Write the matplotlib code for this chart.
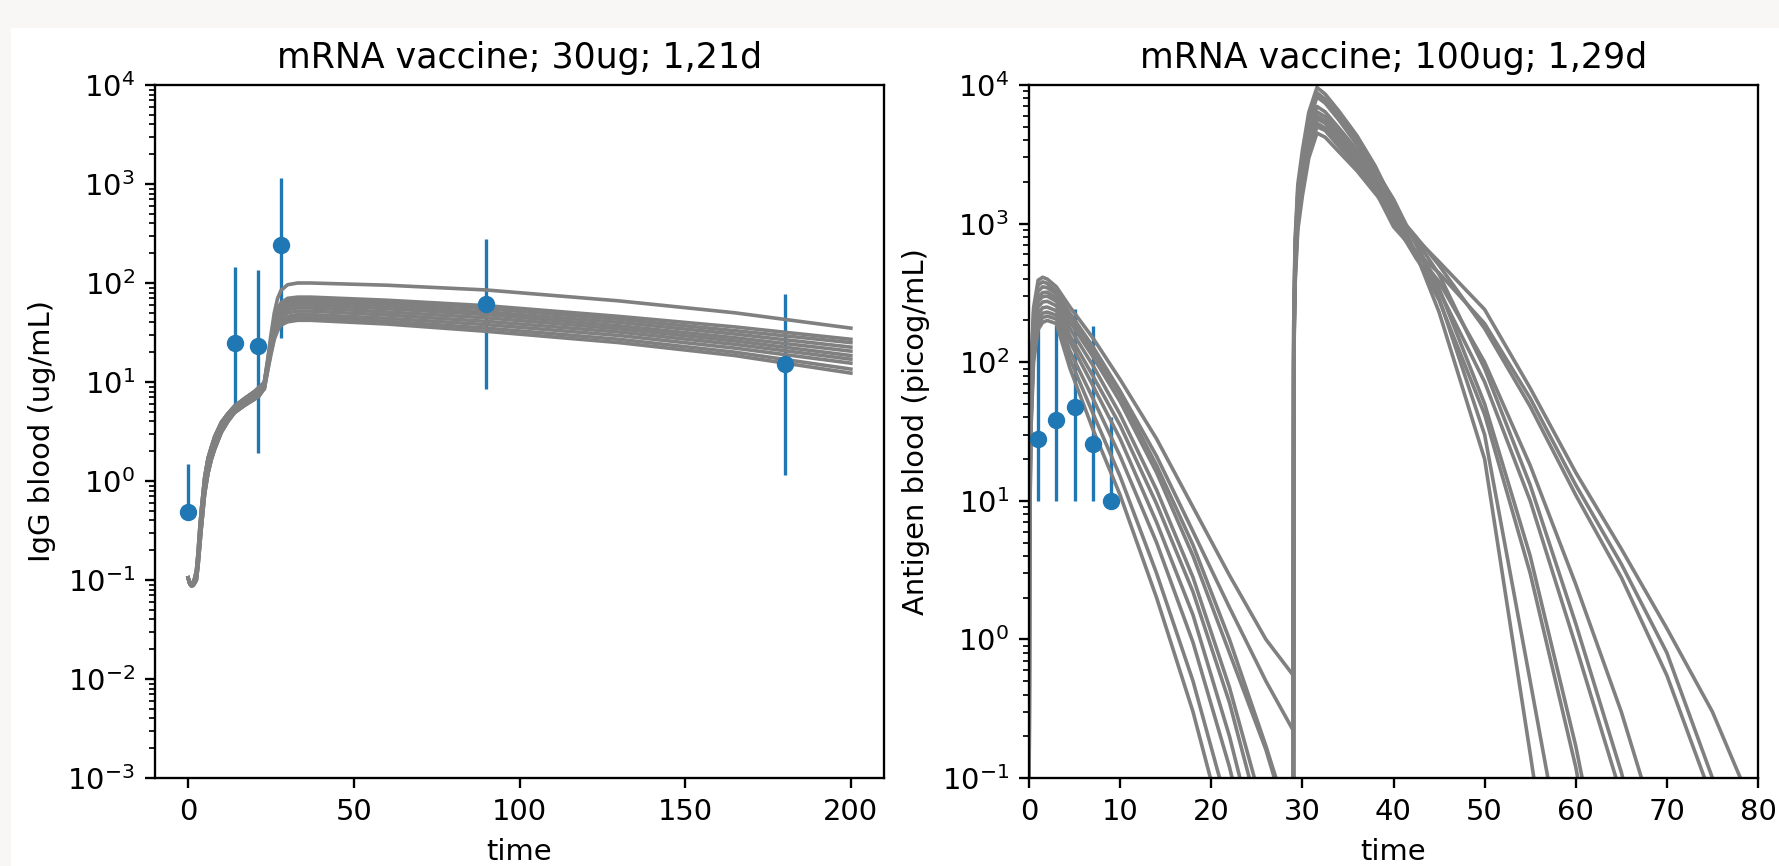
import matplotlib
matplotlib.use('Agg')
import matplotlib.pyplot as plt
from matplotlib.patches import Rectangle

# --- left panel: IgG measurements ---
igg_days = [0, 14, 21, 28, 90, 180]
igg_mean = [0.49, 24.6, 23.3, 242, 61, 15.2]
igg_low = [0.49, 5.9, 1.9, 27.6, 8.5, 1.15]
igg_high = [1.48, 146, 135, 1150, 276, 77.4]

# simulated IgG curves: early phase (three variants), then one list per curve
igg_t_early = [0, 0.5, 1, 1.5, 2, 2.5, 3, 3.5, 4, 5, 6, 7, 8, 10, 12, 14, 17, 20, 21.5]
igg_early_hi = [0.105, 0.093, 0.091, 0.095, 0.105, 0.125, 0.19, 0.33, 0.52, 1.1, 1.7,
                2.2, 2.8, 3.9, 4.8, 5.7, 6.8, 8.0, 8.9]
igg_early_mid = [0.105, 0.092, 0.089, 0.091, 0.098, 0.11, 0.16, 0.27, 0.42, 0.9, 1.4,
                 1.9, 2.4, 3.5, 4.4, 5.3, 6.3, 7.3, 8.0]
igg_early_lo = [0.105, 0.091, 0.087, 0.088, 0.093, 0.1, 0.14, 0.22, 0.34, 0.75, 1.2,
                1.65, 2.1, 3.1, 4.0, 4.9, 5.8, 6.7, 7.3]
igg_t_late = [23, 24, 25, 26, 27, 28, 30, 33, 37, 60, 90, 130, 165, 200]
igg_sims = [
    [10, 17, 30, 50, 70, 84, 96, 100, 100, 95, 85, 66, 50, 35],
    [10, 16, 27, 42, 55, 63, 70, 72, 72, 67, 59, 46, 36, 27],
    [10, 16, 26, 40, 52, 60, 66, 68, 68, 63, 55, 43, 33, 25],
    [9.5, 15, 25, 38, 49, 56, 62, 64, 64, 59, 51, 40, 30.5, 22.5],
    [9.5, 15, 24, 36, 46, 53, 58, 60, 60, 55, 48, 37, 28, 20.5],
    [9, 14.5, 23, 34, 43, 49, 54, 56, 56, 51, 44.5, 34.5, 26, 18.5],
    [9, 14, 22, 32, 40, 46, 50, 52, 52, 47.5, 41, 32, 24, 17],
    [9, 14, 21, 30, 37, 42, 46, 48, 48, 44, 38, 29.5, 22, 15.5],
    [8.5, 13, 20, 28, 35, 40, 43.5, 45, 45, 41, 35, 27, 20, 13.5],
    [8.5, 13, 19, 27, 33, 37.5, 40.5, 42, 42, 38.5, 32.5, 25, 18.5, 12.3],
]
igg_early_of = [igg_early_hi, igg_early_mid, igg_early_lo, igg_early_hi, igg_early_mid,
                igg_early_lo, igg_early_mid, igg_early_hi, igg_early_lo, igg_early_mid]

# --- right panel: antigen measurements ---
ag_days = [1, 3, 5, 7, 9]
ag_mean = [27.8, 38.3, 47.3, 25.6, 10]
ag_low = [10, 10, 10, 10, 10]
ag_high = [200, 184, 241, 182, 40]

# simulated antigen curves: first dose (day 0) and second dose (day 29)
ag_t_dose1 = [0, 0.05, 0.2, 0.5, 1.0, 1.5, 2.0, 3.0, 4.5, 7, 10, 14, 18, 22, 26, 29]
ag_t_dose2 = [29.05, 29.2, 29.5, 30, 30.7, 31.6, 32.5, 34, 36, 38, 40, 42.5, 45, 50,
              55, 60, 65, 70, 75, 80]
ag_dose1 = [
    [0.01, 4.5, 40, 132, 225, 247, 250, 235, 140, 68, 28, 7, 1.5, 0.2, 0.018, 0.002],
    [0.01, 3.5, 33, 110, 188, 210, 215, 205, 105, 43, 15, 3.0, 0.5, 0.055, 0.004, 3e-4],
    [0.01, 5.5, 50, 165, 275, 297, 300, 275, 175, 95, 42, 12, 2.8, 0.45, 0.05, 0.008],
    [0.01, 3.2, 30, 100, 172, 194, 200, 190, 90, 33, 11, 2.0, 0.3, 0.03, 0.002, 1e-4],
    [0.01, 6.5, 63, 200, 325, 350, 345, 310, 215, 120, 58, 18, 4.8, 1.0, 0.17, 0.04],
    [0.01, 4, 36, 120, 205, 226, 230, 218, 120, 55, 21, 5, 0.95, 0.12, 0.01, 0.001],
    [0.01, 8, 82, 246, 390, 410, 398, 350, 250, 150, 75, 28, 9, 2.9, 1.0, 0.55],
    [0.01, 5, 45, 148, 250, 272, 275, 255, 155, 80, 35, 9.5, 2.2, 0.35, 0.035, 0.005],
    [0.01, 7.5, 76, 228, 360, 380, 370, 325, 225, 130, 62, 21, 6, 1.7, 0.5, 0.22],
    [0.01, 6, 56, 180, 295, 318, 320, 290, 195, 110, 52, 16, 4, 0.8, 0.16, 0.035],
]
ag_dose2 = [
    [140, 560, 1400, 2450, 4620, 7000, 6400, 4900, 3400, 2150, 1350, 720, 340,
     50, 4, 0.17, 0.004, 8e-5, 1e-6, 2e-8],
    [176, 704, 1760, 3080, 5810, 8800, 7900, 6000, 4000, 2450, 1500, 700, 290,
     30, 0.5, 0.008, 1e-4, 1e-6, 1e-8, 1e-10],
    [120, 480, 1200, 2100, 3960, 6000, 5500, 4300, 3000, 1950, 1300, 760, 430,
     90, 13, 1.3, 0.11, 0.006, 3e-4, 1e-5],
    [192, 768, 1920, 3360, 6340, 9600, 8600, 6500, 4300, 2600, 1400, 600, 230,
     20, 0.15, 1e-3, 1e-5, 1e-7, 1e-9, 1e-11],
    [106, 424, 1060, 1860, 3500, 5300, 4900, 3800, 2700, 1800, 1250, 800, 500,
     175, 48, 11, 2.8, 0.55, 0.07, 0.008],
    [164, 656, 1640, 2870, 5410, 8200, 7400, 5600, 3700, 2300, 1200, 580, 280,
     42, 3, 0.12, 0.002, 3e-5, 5e-7, 1e-8],
    [90, 360, 900, 1580, 2970, 4500, 4200, 3300, 2400, 1650, 1150, 780, 530,
     240, 65, 16, 4.5, 1.2, 0.3, 0.05],
    [128, 512, 1280, 2240, 4220, 6400, 5900, 4600, 3200, 2050, 1050, 560, 330,
     72, 10, 0.9, 0.075, 0.003, 1e-4, 3e-6],
    [100, 400, 1000, 1750, 3300, 5000, 4700, 3600, 2550, 1720, 950, 620, 440,
     190, 55, 13, 3.5, 0.8, 0.1, 0.01],
    [114, 456, 1140, 2000, 3760, 5700, 5300, 4100, 2900, 1900, 1100, 620, 380,
     100, 18, 2.5, 0.3, 0.025, 0.002, 1e-4],
]

plt.rcParams.update({
    'font.size': 20.9,
    'axes.titlesize': 25,
    'axes.labelsize': 20.9,
    'axes.linewidth': 1.67,
    'axes.titlepad': 12.5,
    'axes.labelpad': 8.4,
    'xtick.major.size': 7.3, 'ytick.major.size': 7.3,
    'xtick.minor.size': 4.2, 'ytick.minor.size': 4.2,
    'xtick.major.width': 1.67, 'ytick.major.width': 1.67,
    'xtick.minor.width': 1.25, 'ytick.minor.width': 1.25,
    'xtick.major.pad': 7.3, 'ytick.major.pad': 7.3,
})

W, H = 1779, 866
fig = plt.figure(figsize=(W / 100, H / 100), dpi=100, facecolor='#f8f7f5')
fig.add_artist(Rectangle((11 / W, 0), 1 - 11 / W, 1 - 28 / H, transform=fig.transFigure,
                         facecolor='white', edgecolor='none', zorder=0))

blue = '#1f77b4'
gray = 'gray'
line_w = 2.6

# left: IgG
ax1 = fig.add_axes([155 / W, 88 / H, 729 / W, 693 / H])
ax1.errorbar(igg_days, igg_mean,
             yerr=[[m - lo for m, lo in zip(igg_mean, igg_low)],
                   [hi - m for m, hi in zip(igg_mean, igg_high)]],
             fmt='o', color=blue, ms=11.5, elinewidth=2.4)
for early, sim in zip(igg_early_of, igg_sims):
    ax1.plot(igg_t_early + igg_t_late, early + sim, color=gray, lw=line_w)
ax1.set_yscale('log')
ax1.set_ylim(1e-3, 1e4)
ax1.set_xlim(-10, 210)
ax1.set_xlabel('time')
ax1.set_ylabel('IgG blood (ug/mL)')
ax1.set_title('mRNA vaccine; 30ug; 1,21d')

# right: antigen
ax2 = fig.add_axes([1029 / W, 88 / H, 729 / W, 693 / H])
ax2.errorbar(ag_days, ag_mean,
             yerr=[[m - lo for m, lo in zip(ag_mean, ag_low)],
                   [hi - m for m, hi in zip(ag_mean, ag_high)]],
             fmt='o', color=blue, ms=11.5, elinewidth=2.4)
for d1, d2 in zip(ag_dose1, ag_dose2):
    ax2.plot(ag_t_dose1 + ag_t_dose2, d1 + d2, color=gray, lw=line_w)
ax2.set_yscale('log')
ax2.set_ylim(1e-1, 1e4)
ax2.set_xlim(0, 80)
ax2.set_xlabel('time')
ax2.set_ylabel('Antigen blood (picog/mL)')
ax2.set_title('mRNA vaccine; 100ug; 1,29d')

fig.savefig('out.png', dpi=100, facecolor=fig.get_facecolor())
